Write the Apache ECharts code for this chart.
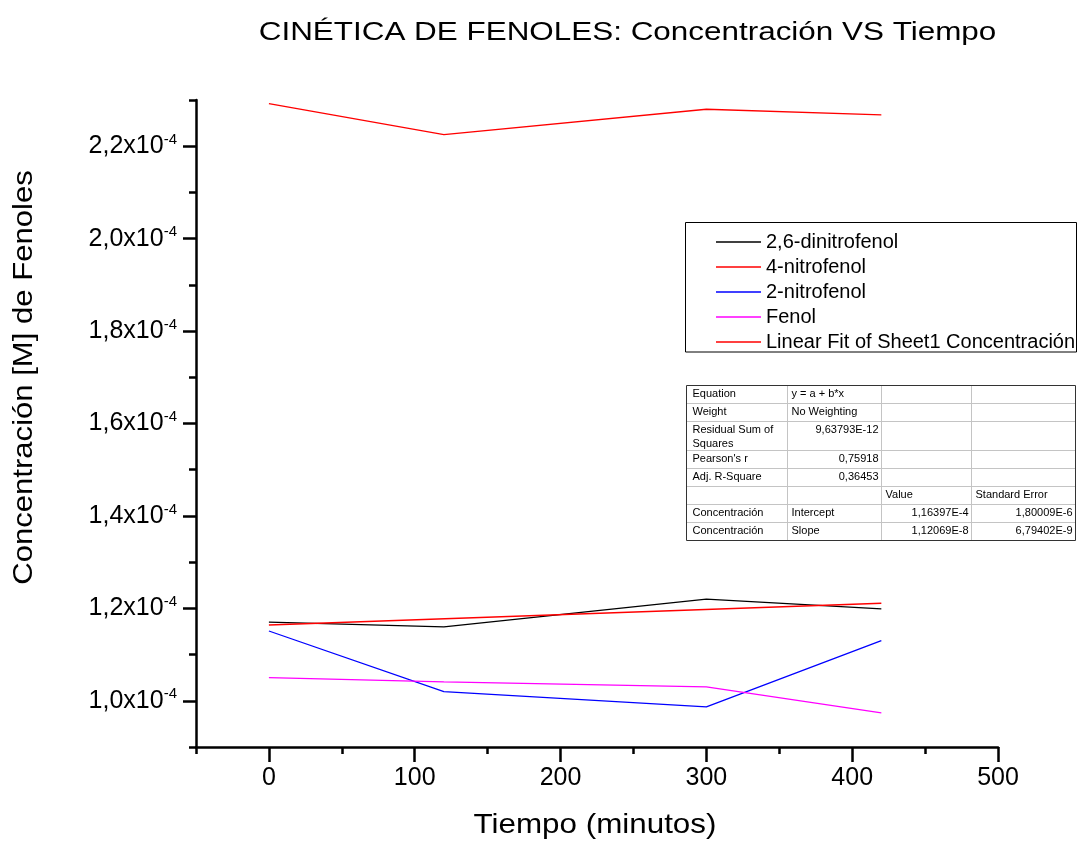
<!DOCTYPE html>
<html>
<head>
<meta charset="utf-8">
<title>Cinética de fenoles</title>
<script src="https://cdn.jsdelivr.net/npm/echarts@6/dist/echarts.min.js"></script>
<style>
  html, body { margin: 0; padding: 0; background: #fff; }
  #chart { width: 1078px; height: 846px; }
</style>
</head>
<body>
<div id="chart"></div>
<script>
// Sampling times (minutes)
const tiempo = [0, 120, 300, 420];

// Concentration of each phenol (M)
const dinitrofenol26 = [1.170e-4, 1.160e-4, 1.220e-4, 1.199e-4];
const nitrofenol4    = [2.292e-4, 2.225e-4, 2.280e-4, 2.268e-4];
const nitrofenol2    = [1.151e-4, 1.020e-4, 0.987e-4, 1.130e-4];
const fenol          = [1.050e-4, 1.041e-4, 1.030e-4, 0.974e-4];

// Linear fit parameters (Concentración = a + b * t)
const fitIntercept = 1.16397e-4;
const fitSlope     = 1.12069e-8;
const fitRange     = [0, 420];

// Axis ticks
const xMajorTicks = [0, 100, 200, 300, 400, 500];
const yMajorTicks = [1.0e-4, 1.2e-4, 1.4e-4, 1.6e-4, 1.8e-4, 2.0e-4, 2.2e-4];

const seriesNames = ['2,6-dinitrofenol', '4-nitrofenol', '2-nitrofenol', 'Fenol',
                     'Linear Fit of Sheet1 Concentración'];

// Fit statistics table
const tableRows = [
  ['Equation', 'y = a + b*x', '', ''],
  ['Weight', 'No Weighting', '', ''],
  ['Residual Sum of\nSquares', '9,63793E-12', '', ''],
  ["Pearson's r", '0,75918', '', ''],
  ['Adj. R-Square', '0,36453', '', ''],
  ['', '', 'Value', 'Standard Error'],
  ['Concentración', 'Intercept', '1,16397E-4', '1,80009E-6'],
  ['Concentración', 'Slope', '1,12069E-8', '6,79402E-9']
];

const FONT = '"Liberation Sans", Arial, Helvetica, sans-serif';

// Table layout
const tblCols = [686.5, 787.5, 881.5, 971.5, 1075.5];
const tblRowsY = [385.5, 403.5, 421.5, 450.5, 468.5, 486.5, 504.5, 522.5, 540.5];

function pair(xs, ys) { return xs.map((x, i) => [x, ys[i]]); }

const fitData = fitRange.map(t => [t, fitIntercept + fitSlope * t]);

function yLabel(v) {
  const m = (v / 1e-4).toFixed(1).replace('.', ',');
  return '{b|' + m + 'x10}{s|-4}';
}

const graphics = [];

// Title
graphics.push({
  type: 'text', x: 627.5, y: 33, scaleX: 1.257, silent: true,
  style: { text: 'CINÉTICA DE FENOLES: Concentración VS Tiempo', fontSize: 25, fontFamily: FONT,
           fill: '#000', align: 'center', verticalAlign: 'middle' }
});
// Axis titles
graphics.push({
  type: 'text', x: 24, y: 377.5, rotation: Math.PI / 2, scaleX: 1.11, silent: true,
  style: { text: 'Concentración [M] de Fenoles', fontSize: 28, fontFamily: FONT,
           fill: '#000', align: 'center', verticalAlign: 'middle' }
});
graphics.push({
  type: 'text', x: 595, y: 825, scaleX: 1.12, silent: true,
  style: { text: 'Tiempo (minutos)', fontSize: 28, fontFamily: FONT,
           fill: '#000', align: 'center', verticalAlign: 'middle' }
});
// Legend frame
graphics.push({
  type: 'rect', silent: true,
  shape: { x: 685.5, y: 222.5, width: 391, height: 129.5 },
  style: { fill: '#fff', stroke: '#000', lineWidth: 1 },
  z: 0
});

// Table background, grid lines and cell texts
graphics.push({
  type: 'rect', silent: true,
  shape: { x: tblCols[0], y: tblRowsY[0], width: tblCols[4] - tblCols[0], height: tblRowsY[8] - tblRowsY[0] },
  style: { fill: '#fff', stroke: null }
});
for (let i = 1; i < tblRowsY.length - 1; i++) {
  graphics.push({ type: 'line', silent: true,
    shape: { x1: tblCols[0], y1: tblRowsY[i], x2: tblCols[4], y2: tblRowsY[i] },
    style: { stroke: '#c4c4c4', lineWidth: 1 } });
}
for (let j = 1; j < tblCols.length - 1; j++) {
  graphics.push({ type: 'line', silent: true,
    shape: { x1: tblCols[j], y1: tblRowsY[0], x2: tblCols[j], y2: tblRowsY[8] },
    style: { stroke: '#c4c4c4', lineWidth: 1 } });
}
graphics.push({
  type: 'rect', silent: true,
  shape: { x: tblCols[0], y: tblRowsY[0], width: tblCols[4] - tblCols[0], height: tblRowsY[8] - tblRowsY[0] },
  style: { fill: null, stroke: '#333', lineWidth: 1 }
});
tableRows.forEach((row, r) => {
  row.forEach((cell, c) => {
    if (!cell) return;
    const numeric = /^[0-9]/.test(cell);
    graphics.push({
      type: 'text', silent: true,
      style: {
        text: cell, fontSize: 11, fontFamily: FONT, fill: '#000', lineHeight: 13.4,
        x: numeric ? tblCols[c + 1] - 3 : tblCols[c] + (c === 0 ? 6 : 4),
        y: tblRowsY[r] + 2,
        align: numeric ? 'right' : 'left', verticalAlign: 'top'
      }
    });
  });
});

const axisLineStyle = { color: '#000', width: 2.5 };

const option = {
  animation: false,
  backgroundColor: '#fff',
  textStyle: { fontFamily: FONT },
  grid: [
    { left: 196, right: 80, top: 100, bottom: 99 },
    { left: 196, right: 80, top: 100, bottom: 99 }
  ],
  xAxis: [
    {
      type: 'value', gridIndex: 0, min: -50, max: 500, position: 'bottom',
      axisLine: { show: true, onZero: false, lineStyle: axisLineStyle },
      axisTick: { show: true, customValues: xMajorTicks, length: 15, inside: false, lineStyle: axisLineStyle },
      axisLabel: { show: true, customValues: xMajorTicks, fontSize: 25, color: '#000', margin: 19, fontFamily: FONT },
      splitLine: { show: false }
    },
    {
      // minor ticks every 50 minutes
      type: 'value', gridIndex: 1, min: -50, max: 500, interval: 50, position: 'bottom',
      axisLine: { show: false, onZero: false },
      axisTick: { show: true, length: 7, inside: false, lineStyle: axisLineStyle },
      axisLabel: { show: false },
      splitLine: { show: false }
    }
  ],
  yAxis: [
    {
      type: 'value', gridIndex: 0, min: 0.9e-4, max: 2.3e-4, position: 'left',
      axisLine: { show: true, onZero: false, lineStyle: axisLineStyle },
      axisTick: { show: true, customValues: yMajorTicks, length: 13, inside: false, lineStyle: axisLineStyle },
      axisLabel: {
        show: true, customValues: yMajorTicks, margin: 19, color: '#000',
        formatter: yLabel,
        rich: {
          b: { fontSize: 25, lineHeight: 28, fontFamily: FONT, color: '#000' },
          s: { fontSize: 15, lineHeight: 15, fontFamily: FONT, color: '#000', verticalAlign: 'top' }
        }
      },
      splitLine: { show: false }
    },
    {
      // minor ticks every 0.1x10^-4
      type: 'value', gridIndex: 1, min: 0.9e-4, max: 2.3e-4, interval: 0.1e-4, position: 'left',
      axisLine: { show: false, onZero: false },
      axisTick: { show: true, length: 7, inside: false, lineStyle: axisLineStyle },
      axisLabel: { show: false },
      splitLine: { show: false }
    }
  ],
  legend: {
    orient: 'vertical', left: 716, top: 229.5, padding: 0, itemGap: 0,
    itemWidth: 45, itemHeight: 1.5, icon: 'rect',
    data: seriesNames,
    textStyle: { fontSize: 20, lineHeight: 25, color: '#000', fontFamily: FONT },
    z: 5
  },
  series: [
    { name: seriesNames[0], type: 'line', data: pair(tiempo, dinitrofenol26), color: '#000000' },
    { name: seriesNames[1], type: 'line', data: pair(tiempo, nitrofenol4), color: '#ff0000' },
    { name: seriesNames[2], type: 'line', data: pair(tiempo, nitrofenol2), color: '#0000ff' },
    { name: seriesNames[3], type: 'line', data: pair(tiempo, fenol), color: '#ff00ff' },
    { name: seriesNames[4], type: 'line', data: fitData, color: '#ff0000' }
  ].map(s => Object.assign(s, {
    xAxisIndex: 0, yAxisIndex: 0, symbol: 'none', showSymbol: false, silent: true,
    lineStyle: { width: 1.3, color: s.color }
  })),
  graphic: graphics
};

const chart = echarts.init(document.getElementById('chart'), null, { renderer: 'canvas' });
chart.setOption(option);
</script>
</body>
</html>
